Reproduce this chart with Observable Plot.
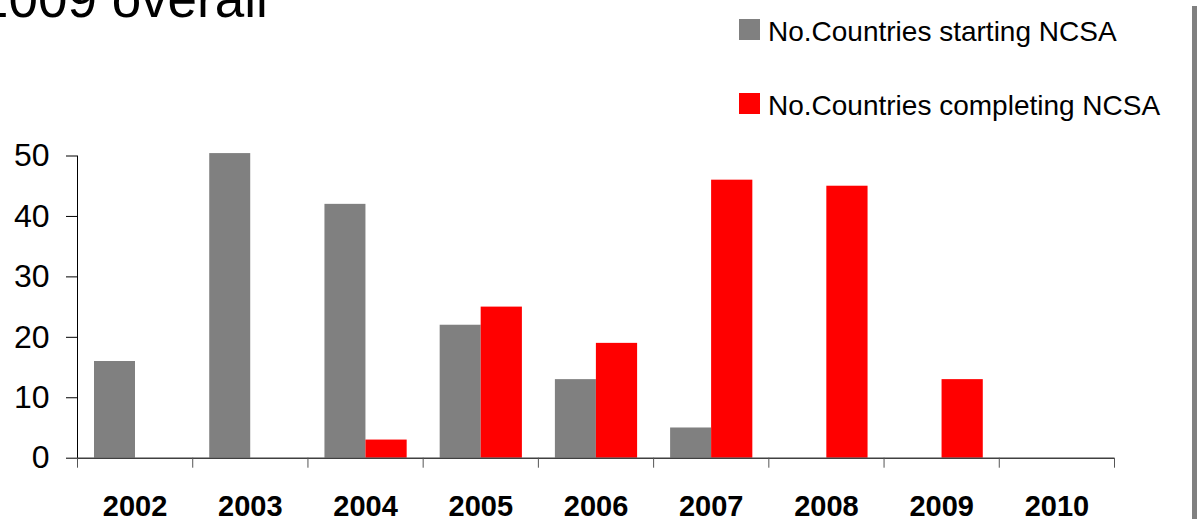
<!DOCTYPE html>
<html>
<head>
<meta charset="utf-8">
<script src="https://cdn.jsdelivr.net/npm/d3@7"></script>
<script src="https://cdn.jsdelivr.net/npm/@observablehq/plot@0.6"></script>
<style>
  html, body { margin: 0; padding: 0; background: #fff; }
  #wrap { position: relative; width: 1197px; height: 519px; overflow: hidden; font-family: "Liberation Sans", Arial, sans-serif; color: #000; }
  #title { position: absolute; left: -21px; top: -28px; font-size: 53px; line-height: 53px; white-space: nowrap; }
  .leg { position: absolute; left: 739px; font-size: 28px; line-height: 28px; white-space: nowrap; }
  .sw { position: absolute; left: 0; width: 21px; height: 21px; }
  .lt { position: absolute; left: 29px; top: 0; }
  #edge { position: absolute; left: 1192px; top: 6px; width: 5px; height: 513px; background: #808080; }
  #chart { position: absolute; left: 0; top: 0; }
</style>
</head>
<body>
<div id="wrap">
  <div id="chart"></div>
  <div id="title">2009 overall</div>
  <div class="leg" style="top:18px"><div class="sw" style="top:1px;background:#808080"></div><div class="lt">No.Countries starting NCSA</div></div>
  <div class="leg" style="top:92px"><div class="sw" style="top:1px;background:#ff0000"></div><div class="lt">No.Countries completing NCSA</div></div>
  <div id="edge"></div>
</div>
<script>
const years = ["2002", "2003", "2004", "2005", "2006", "2007", "2008", "2009", "2010"];
const starting = [16, 50.4, 42, 22, 13, 5, 0, 0, 0];
const completing = [0, 0, 3, 25, 19, 46, 45, 13, 0];
const yTicks = [0, 10, 20, 30, 40, 50];
const seriesNames = ["No.Countries starting NCSA", "No.Countries completing NCSA"];

const rowsStart = years.map((year, i) => ({year, value: starting[i], series: seriesNames[0]}));
const rowsComplete = years.map((year, i) => ({year, value: completing[i], series: seriesNames[1]}));

const W = 1197, H = 519, mL = 77, mR = 83;
const bw = (W - mL - mR) / years.length;

const chart = Plot.plot({
  width: W,
  height: H,
  marginLeft: mL,
  marginRight: mR,
  marginTop: 155.5,
  marginBottom: 61.3,
  style: {fontFamily: "'Liberation Sans', Arial, sans-serif", color: "#000", background: "transparent"},
  x: {domain: years, padding: 0, round: false, axis: null},
  y: {domain: [0, 50], axis: null},
  marks: [
    Plot.barY(rowsStart, {x: "year", y: "value", fill: "#808080", insetLeft: 17, insetRight: bw - 58}),
    Plot.barY(rowsComplete, {x: "year", y: "value", fill: "#ff0000", insetLeft: 58, insetRight: 16}),
    Plot.ruleY([0], {stroke: "#404040", strokeWidth: 1.5}),
    Plot.frame({anchor: "left", stroke: "#000"}),
    Plot.axisY({ticks: yTicks, tickSize: 11, tickPadding: 17, fontSize: 32, stroke: "#000", label: null}),
    Plot.axisX({ticks: years, tickSize: 10, tickFormat: () => "", dx: -bw / 2, stroke: "#555", label: null}),
    Plot.axisX({ticks: [years[years.length - 1]], tickSize: 10, tickFormat: () => "", dx: bw / 2, stroke: "#555", label: null}),
    Plot.axisX({ticks: years, tickSize: 0, tickPadding: 37.5, fontSize: 29, fontWeight: "bold", label: null})
  ]
});
document.getElementById("chart").appendChild(chart);
</script>
</body>
</html>
